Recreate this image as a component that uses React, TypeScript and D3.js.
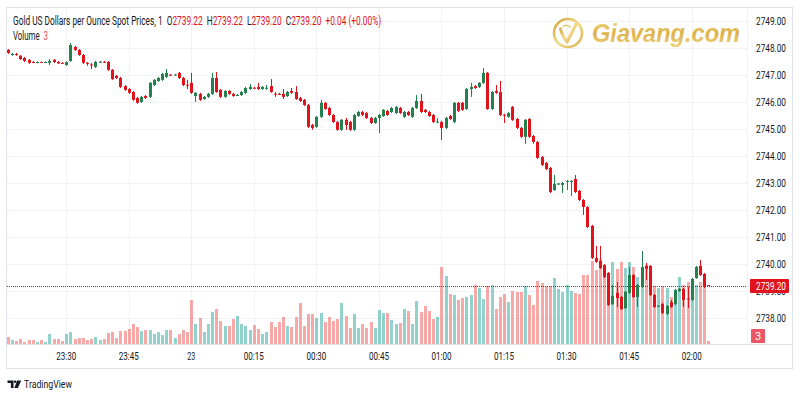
import React, { useLayoutEffect, useRef, useState } from "react";
import * as d3 from "d3";

// ---------- DATA ----------
const opens = [
  2747.93, 2747.74, 2747.78, 2747.71, 2747.63, 2747.56, 2747.48, 2747.45, 2747.48, 2747.47,
  2747.45, 2747.56, 2747.48, 2747.45, 2747.37, 2747.52, 2748.04, 2747.93, 2747.74, 2747.45,
  2747.39, 2747.30, 2747.48, 2747.49, 2747.48, 2747.19, 2746.97, 2746.89, 2746.59, 2746.48,
  2746.37, 2746.15, 2746.00, 2746.22, 2746.19, 2746.63, 2746.78, 2746.82, 2746.93, 2747.01,
  2747.00, 2747.08, 2746.89, 2746.64, 2746.71, 2746.22, 2746.30, 2746.11, 2746.19, 2746.30,
  2746.89, 2746.45, 2746.19, 2746.41, 2746.30, 2746.24, 2746.26, 2746.34, 2746.48, 2746.53,
  2746.56, 2746.48, 2746.52, 2746.59, 2746.31, 2746.30, 2746.30, 2746.22, 2746.41, 2746.37,
  2746.15, 2746.08, 2745.89, 2745.15, 2745.08, 2745.45, 2745.97, 2745.78, 2745.52, 2745.26,
  2744.97, 2745.34, 2745.26, 2744.97, 2745.48, 2745.63, 2745.59, 2745.41, 2745.22, 2745.41,
  2745.48, 2745.67, 2745.63, 2745.59, 2745.78, 2745.45, 2745.63, 2745.45, 2745.78, 2746.04,
  2745.71, 2745.63, 2745.52, 2745.26, 2745.26, 2745.04, 2745.48, 2745.26, 2745.97, 2745.97,
  2745.74, 2746.48, 2746.59, 2746.56, 2746.71, 2747.08, 2745.74, 2746.41, 2746.37, 2745.53,
  2745.45, 2745.82, 2745.37, 2745.04, 2744.71, 2745.37, 2744.74, 2744.52, 2743.96, 2743.74,
  2743.56, 2742.74, 2742.96, 2742.93, 2743.07, 2743.04, 2743.15, 2742.71, 2742.37, 2742.11,
  2741.41, 2740.22, 2740.11, 2739.96, 2739.67, 2738.52, 2738.93, 2738.78, 2738.37, 2738.93,
  2739.59, 2738.78, 2739.15, 2739.93, 2739.93, 2738.85, 2738.43, 2738.52, 2738.15, 2738.59,
  2738.52, 2739.00, 2739.08, 2738.72, 2738.67, 2739.48, 2739.93, 2739.63, 2739.22,
];

const closes = [
  2747.82, 2747.78, 2747.74, 2747.59, 2747.52, 2747.45, 2747.46, 2747.48, 2747.47, 2747.48,
  2747.52, 2747.48, 2747.43, 2747.44, 2747.48, 2748.11, 2747.93, 2747.74, 2747.45, 2747.41,
  2747.36, 2747.48, 2747.49, 2747.48, 2747.19, 2746.85, 2746.89, 2746.56, 2746.45, 2746.34,
  2746.08, 2745.97, 2746.19, 2746.15, 2746.71, 2746.82, 2746.89, 2747.04, 2747.08, 2747.00,
  2747.02, 2746.89, 2746.63, 2746.62, 2746.34, 2746.34, 2746.08, 2746.19, 2746.30, 2746.89,
  2746.37, 2746.19, 2746.41, 2746.30, 2746.22, 2746.26, 2746.37, 2746.52, 2746.56, 2746.51,
  2746.48, 2746.56, 2746.53, 2746.37, 2746.29, 2746.29, 2746.19, 2746.37, 2746.34, 2746.11,
  2746.04, 2745.89, 2745.08, 2745.04, 2745.45, 2745.97, 2745.74, 2745.52, 2745.26, 2744.97,
  2745.34, 2745.15, 2744.97, 2745.52, 2745.63, 2745.52, 2745.41, 2745.22, 2745.41, 2745.52,
  2745.71, 2745.52, 2745.78, 2745.82, 2745.59, 2745.63, 2745.52, 2745.78, 2746.04, 2745.63,
  2745.63, 2745.48, 2745.26, 2745.27, 2745.04, 2745.41, 2745.37, 2745.97, 2745.67, 2745.71,
  2746.48, 2746.56, 2746.52, 2746.71, 2747.08, 2745.74, 2746.37, 2746.34, 2745.52, 2745.51,
  2745.59, 2745.34, 2745.04, 2744.71, 2745.34, 2744.71, 2744.52, 2743.93, 2743.67, 2743.52,
  2742.67, 2742.97, 2742.98, 2743.00, 2743.08, 2743.08, 2742.67, 2742.37, 2742.11, 2741.37,
  2740.22, 2740.08, 2739.85, 2739.52, 2738.48, 2738.82, 2738.74, 2738.33, 2738.97, 2739.59,
  2738.78, 2739.22, 2739.89, 2739.82, 2738.85, 2738.41, 2738.45, 2738.19, 2738.45, 2738.41,
  2739.04, 2739.08, 2738.67, 2738.70, 2739.45, 2739.89, 2739.59, 2739.16, 2739.20,
];

const highs = [
  2747.96, 2747.82, 2747.82, 2747.74, 2747.67, 2747.59, 2747.52, 2747.50, 2747.50, 2747.50,
  2747.59, 2747.59, 2747.52, 2747.47, 2747.50, 2748.19, 2748.08, 2747.96, 2747.78, 2747.48,
  2747.45, 2747.52, 2747.52, 2747.52, 2747.52, 2747.22, 2747.00, 2746.93, 2746.63, 2746.52,
  2746.41, 2746.19, 2746.22, 2746.26, 2746.74, 2746.85, 2746.93, 2747.08, 2747.22, 2747.04,
  2747.04, 2747.11, 2746.93, 2746.82, 2747.08, 2746.37, 2746.34, 2746.22, 2746.34, 2747.08,
  2747.11, 2746.48, 2746.45, 2746.45, 2746.34, 2746.30, 2746.41, 2746.56, 2746.67, 2746.56,
  2746.71, 2746.59, 2746.63, 2746.85, 2746.37, 2746.34, 2746.48, 2746.41, 2746.52, 2746.59,
  2746.19, 2746.11, 2745.93, 2745.19, 2745.48, 2746.08, 2746.00, 2745.82, 2745.56, 2745.30,
  2745.37, 2745.41, 2745.30, 2745.56, 2745.67, 2745.67, 2745.63, 2745.45, 2745.45, 2745.56,
  2745.74, 2745.71, 2745.82, 2745.85, 2745.82, 2745.67, 2745.67, 2745.82, 2746.26, 2746.30,
  2745.74, 2745.67, 2745.56, 2745.41, 2745.30, 2745.45, 2745.52, 2746.00, 2746.00, 2746.00,
  2746.52, 2746.71, 2746.63, 2746.74, 2747.26, 2747.11, 2746.41, 2746.63, 2746.78, 2745.56,
  2745.63, 2745.85, 2745.41, 2745.08, 2745.37, 2745.41, 2744.78, 2744.56, 2744.00, 2743.78,
  2743.59, 2743.30, 2743.00, 2743.04, 2743.11, 2743.11, 2743.30, 2742.74, 2742.41, 2742.15,
  2741.45, 2740.67, 2740.67, 2740.00, 2739.70, 2739.22, 2739.33, 2738.82, 2739.00, 2739.89,
  2739.63, 2739.26, 2740.48, 2740.04, 2739.96, 2738.89, 2738.48, 2738.56, 2738.48, 2738.67,
  2739.08, 2739.11, 2739.11, 2739.15, 2739.48, 2739.93, 2740.15, 2739.67, 2739.22,
];

const lows = [
  2747.78, 2747.71, 2747.71, 2747.56, 2747.48, 2747.41, 2747.45, 2747.43, 2747.45, 2747.45,
  2747.37, 2747.45, 2747.41, 2747.41, 2747.34, 2747.48, 2747.89, 2747.71, 2747.41, 2747.34,
  2747.22, 2747.26, 2747.45, 2747.45, 2747.15, 2746.82, 2746.85, 2746.52, 2746.41, 2746.30,
  2746.04, 2745.93, 2745.97, 2746.11, 2746.15, 2746.59, 2746.74, 2746.78, 2746.89, 2746.97,
  2746.97, 2746.85, 2746.59, 2746.48, 2746.30, 2746.00, 2746.04, 2746.08, 2746.15, 2746.26,
  2746.34, 2746.15, 2746.15, 2746.26, 2746.19, 2746.22, 2746.22, 2746.30, 2746.45, 2746.48,
  2746.45, 2746.45, 2746.45, 2746.34, 2746.19, 2746.26, 2746.11, 2746.19, 2746.30, 2746.08,
  2746.00, 2745.85, 2745.04, 2744.97, 2745.04, 2745.41, 2745.71, 2745.48, 2745.22, 2744.93,
  2744.93, 2744.97, 2744.93, 2744.93, 2745.45, 2745.48, 2745.37, 2745.19, 2745.19, 2744.85,
  2745.45, 2745.48, 2745.59, 2745.56, 2745.56, 2745.41, 2745.48, 2745.41, 2745.74, 2745.59,
  2745.59, 2745.45, 2745.22, 2745.22, 2744.59, 2745.00, 2745.34, 2745.22, 2745.63, 2745.67,
  2745.71, 2746.19, 2746.48, 2746.52, 2746.67, 2745.71, 2745.71, 2746.30, 2745.48, 2745.22,
  2745.41, 2745.30, 2745.00, 2744.67, 2744.45, 2744.67, 2744.45, 2743.89, 2743.63, 2743.48,
  2742.63, 2742.71, 2742.93, 2742.63, 2742.74, 2742.52, 2742.63, 2742.33, 2741.82, 2741.33,
  2740.19, 2740.04, 2739.82, 2739.48, 2738.45, 2738.48, 2738.41, 2738.30, 2738.33, 2738.89,
  2738.74, 2738.41, 2739.11, 2739.41, 2738.82, 2738.37, 2738.41, 2738.15, 2738.11, 2738.37,
  2738.48, 2738.97, 2738.41, 2738.37, 2738.63, 2739.45, 2739.56, 2739.11, 2739.20,
];

const volumes = [
  7, 4, 3, 5, 2, 4, 4, 2, 4, 2,
  10, 5, 5, 3, 10, 12, 5, 6, 6, 4,
  5, 7, 4, 5, 11, 12, 6, 13, 13, 15,
  20, 17, 13, 14, 14, 10, 12, 9, 14, 14,
  6, 10, 14, 12, 44, 20, 26, 12, 20, 32,
  35, 23, 18, 18, 25, 28, 20, 18, 14, 19,
  15, 10, 12, 22, 17, 22, 27, 18, 17, 27,
  41, 18, 30, 30, 26, 31, 22, 27, 23, 25,
  41, 28, 16, 30, 16, 20, 16, 22, 16, 34,
  31, 31, 24, 20, 21, 35, 33, 20, 43, 32,
  38, 33, 25, 27, 77, 68, 50, 49, 44, 46,
  47, 49, 59, 56, 45, 58, 59, 35, 47, 50,
  42, 53, 52, 52, 58, 49, 39, 63, 61, 58,
  58, 66, 55, 52, 59, 53, 51, 50, 69, 69,
  83, 74, 85, 76, 71, 82, 75, 82, 76, 82,
  77, 67, 76, 79, 78, 58, 56, 58, 56, 47,
  51, 67, 59, 62, 63, 59, 62, 59, 3,
];

const startTime = "2024-10-22T23:16";
const timeTicks = [
  "2024-10-22T23:30", "2024-10-22T23:45", "2024-10-23T00:00", "2024-10-23T00:15",
  "2024-10-23T00:30", "2024-10-23T00:45", "2024-10-23T01:00", "2024-10-23T01:15",
  "2024-10-23T01:30", "2024-10-23T01:45", "2024-10-23T02:00",
];
const timeTickLabels = ["23:30", "23:45", "23", "00:15", "00:30", "00:45", "01:00", "01:15", "01:30", "01:45", "02:00"];
const priceTicks = [2738, 2739, 2740, 2741, 2742, 2743, 2744, 2745, 2746, 2747, 2748, 2749];

const title = "Gold US Dollars per Ounce Spot Prices, 1";
const lastO = "2739.22", lastH = "2739.22", lastL = "2739.20", lastC = "2739.20", lastChg = "+0.04 (+0.00%)";
const lastVolume = "3";
const lastPrice = 2739.2;

// ---------- STYLE ----------
const UP = "#24804d";
const DOWN = "#e0131c";
const VOL_UP = "rgba(38,166,154,0.5)";
const VOL_DOWN = "rgba(239,83,80,0.5)";
const TEXT = "#131722";
const GRID = "#f0f2f6";
const BORDER = "#e0e3eb";
const FONT = "Roboto, 'Liberation Sans', sans-serif";

// Text that is horizontally scaled (as a whole) to a target width
function FitText(props: { x: number; y: number; width: number; fontSize: number; fill?: string; children: React.ReactNode }) {
  const ref = useRef<SVGTextElement>(null);
  const [sx, setSx] = useState(0.75);
  useLayoutEffect(() => {
    if (ref.current) {
      const w = ref.current.getComputedTextLength();
      if (w > 0) setSx(props.width / w);
    }
  }, [props.width]);
  return (
    <g transform={`translate(${props.x},${props.y}) scale(${sx},1)`}>
      <text ref={ref} x={0} y={0} fontSize={props.fontSize} fill={props.fill || TEXT} style={{ whiteSpace: "pre" }}>
        {props.children}
      </text>
    </g>
  );
}

export default function App() {
  const n = Math.min(opens.length, closes.length, highs.length, lows.length, volumes.length);
  const parse = d3.timeParse("%Y-%m-%dT%H:%M");
  const t0 = parse(startTime) as Date;
  const times = d3.range(n).map((i) => d3.timeMinute.offset(t0, i));

  const plotL = 7, plotR = 747, plotT = 8, plotB = 344, axisB = 368, frameR = 792;
  const step = 4.17;
  const x = d3.scaleTime().domain([times[0], times[n - 1]]).range([7.8, 7.8 + step * (n - 1)]);
  const y = d3.scaleLinear().domain([2738, 2749]).range([318, 21]);
  const yv = d3.scaleLinear().domain([0, d3.max(volumes.slice(0, n)) as number]).range([plotB, plotB - 85]);

  const ticks = timeTicks.map((s) => parse(s) as Date);
  const lastY = Math.round(y(lastPrice));

  return (
    <svg width={800} height={400} style={{ position: "absolute", left: 0, top: 0, background: "#fff" }} fontFamily={FONT}>
      <defs>
        <linearGradient id="gold" x1="0" y1="0" x2="0" y2="1">
          <stop offset="0" stopColor="#f6dc7a" />
          <stop offset="0.5" stopColor="#d9a936" />
          <stop offset="1" stopColor="#f1d27a" />
        </linearGradient>
        <linearGradient id="goldH" x1="0" y1="0" x2="1" y2="1">
          <stop offset="0" stopColor="#c7961f" />
          <stop offset="0.5" stopColor="#f3d77c" />
          <stop offset="1" stopColor="#d4a93a" />
        </linearGradient>
        <clipPath id="plotClip">
          <rect x={plotL} y={plotT} width={plotR - plotL} height={plotB - plotT} />
        </clipPath>
      </defs>
      <rect x={0} y={0} width={800} height={400} fill="#fff" />

      {/* grid */}
      {ticks.map((t, i) => (
        <line key={"vg" + i} x1={Math.round(x(t)) + 0.5} x2={Math.round(x(t)) + 0.5} y1={plotT} y2={plotB} stroke={GRID} />
      ))}
      {priceTicks.map((p) => (
        <line key={"hg" + p} x1={plotL} x2={plotR} y1={Math.round(y(p)) + 0.5} y2={Math.round(y(p)) + 0.5} stroke={GRID} />
      ))}

      {/* watermark */}
      <g opacity={0.9}>
        <circle cx={568} cy={33} r={14} fill="none" stroke="url(#goldH)" strokeWidth={2.6} />
        <path d="M560.5,29 C562,35 564.5,39 567,42 L576.5,23.5" fill="none" stroke="url(#goldH)" strokeWidth={3} strokeLinecap="round" strokeLinejoin="round" />
        <path d="M563,27 C565,25 568,25 570,27" fill="none" stroke="url(#goldH)" strokeWidth={1.5} strokeLinecap="round" />
        <text x={592} y={42} fontSize={26} fontWeight="bold" fontStyle="italic" fill="url(#gold)" textLength={148} lengthAdjust="spacingAndGlyphs" fontFamily="'Liberation Sans', Arial, sans-serif">Giavang.com</text>
      </g>

      <g clipPath="url(#plotClip)">
        {/* volume */}
        {d3.range(n).map((i) => {
          const cx = Math.round(x(times[i]));
          const up = closes[i] >= opens[i];
          const top = yv(volumes[i]);
          return <rect key={"v" + i} x={cx - 1} y={top} width={3} height={Math.max(1, plotB - top)} fill={up ? VOL_UP : VOL_DOWN} />;
        })}

        {/* last price line */}
        <line x1={plotL} x2={plotR} y1={lastY + 0.5} y2={lastY + 0.5} stroke={DOWN} strokeDasharray="1 1" />

        {/* candles */}
        {d3.range(n).map((i) => {
          const cx = Math.round(x(times[i]));
          const up = closes[i] >= opens[i];
          const col = up ? UP : DOWN;
          const yo = y(opens[i]), yc = y(closes[i]);
          const top = Math.min(yo, yc), h = Math.max(1, Math.abs(yo - yc));
          return (
            <g key={"c" + i}>
              <line x1={cx + 0.5} x2={cx + 0.5} y1={y(highs[i])} y2={y(lows[i])} stroke={col} strokeWidth={1} />
              <rect x={cx - 1} y={top} width={3} height={h} fill={col} />
            </g>
          );
        })}
      </g>

      {/* frame */}
      <rect x={plotL - 0.5} y={plotT - 0.5} width={frameR - plotL + 1} height={axisB - plotT + 1} fill="none" stroke={BORDER} />
      <line x1={plotL} x2={frameR} y1={plotB + 0.5} y2={plotB + 0.5} stroke={BORDER} />
      <line x1={plotR + 0.5} x2={plotR + 0.5} y1={plotT} y2={plotB} stroke="#f2f3f6" />

      {/* price axis */}
      {priceTicks.map((p) => (
        <text key={"pt" + p} x={756} y={y(p) + 4} fontSize={11} fill={TEXT} textLength={30} lengthAdjust="spacingAndGlyphs">
          {p.toFixed(2)}
        </text>
      ))}
      <rect x={750} y={lastY - 7} width={39} height={14} fill={DOWN} rx={1} />
      <text x={756} y={lastY + 4} fontSize={11} fill="#fff" textLength={30} lengthAdjust="spacingAndGlyphs">
        {lastPrice.toFixed(2)}
      </text>
      <rect x={751} y={329} width={14} height={14} fill="#ec5563" rx={1} />
      <text x={758} y={340} fontSize={11} fill="#fff" textAnchor="middle">{lastVolume}</text>

      {/* time axis */}
      {ticks.map((t, i) => (
        <text key={"tt" + i} x={x(t)} y={360} fontSize={11} fill={TEXT} textAnchor="middle" textLength={timeTickLabels[i].length * 4} lengthAdjust="spacingAndGlyphs">
          {timeTickLabels[i]}
        </text>
      ))}

      {/* legend */}
      <FitText x={13} y={25} width={368} fontSize={12}>
        <tspan>{title + "  O"}</tspan>
        <tspan fill={DOWN}>{lastO}</tspan>
        <tspan>{"  H"}</tspan>
        <tspan fill={DOWN}>{lastH}</tspan>
        <tspan>{"  L"}</tspan>
        <tspan fill={DOWN}>{lastL}</tspan>
        <tspan>{"  C"}</tspan>
        <tspan fill={DOWN}>{lastC + "  " + lastChg}</tspan>
      </FitText>
      <FitText x={13} y={40} width={35} fontSize={12}>
        <tspan>{"Volume  "}</tspan>
        <tspan fill="#ec5563">{lastVolume}</tspan>
      </FitText>

      {/* TradingView logo */}
      <g fill={TEXT}>
        <path d="M7.5,380.5 h6 v7.5 h-2.6 v-5 h-3.4 z" />
        <circle cx={15.2} cy={381.8} r={1.3} />
        <path d="M17.2,380.5 h4 l-3.3,7.5 h-3.6 z" />
        <text x={24} y={388} fontSize={11.5} textLength={48} lengthAdjust="spacingAndGlyphs">TradingView</text>
      </g>
    </svg>
  );
}
